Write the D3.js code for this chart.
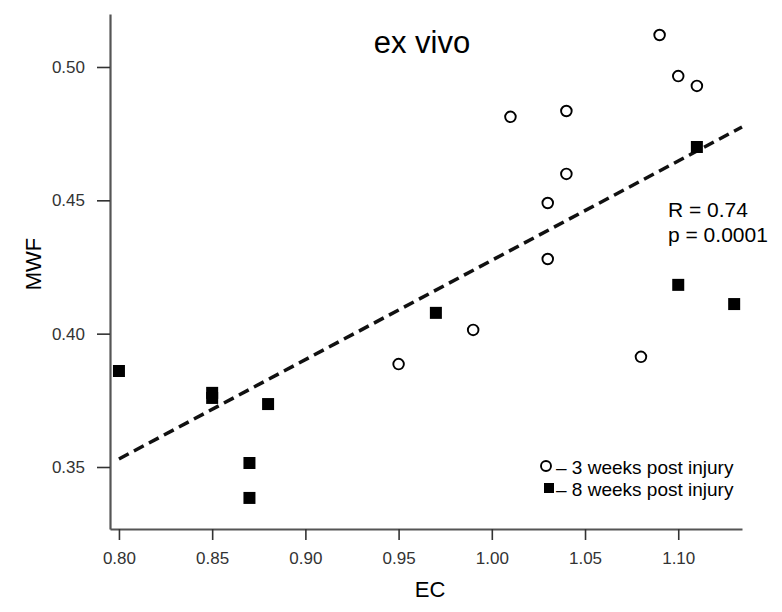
<!DOCTYPE html>
<html>
<head>
<meta charset="utf-8">
<script src="https://cdn.jsdelivr.net/npm/d3@7"></script>
<style>
  body { margin: 0; background: #fff; }
  svg { font-family: Arial, "Liberation Sans", sans-serif; }
</style>
</head>
<body>
<div id="chart"></div>
<script>
// 3 weeks post injury (open circles)
const ec3 = [1.09, 1.10, 1.11, 1.01, 1.04, 1.04, 1.03, 1.03, 0.99, 0.95, 1.08];
const mwf3 = [0.512, 0.4966, 0.4929, 0.4813, 0.4835, 0.4599, 0.449, 0.428, 0.4014, 0.3886, 0.3913];
// 8 weeks post injury (filled squares)
const ec8 = [0.80, 0.85, 0.85, 0.88, 0.87, 0.87, 0.97, 1.11, 1.10, 1.13];
const mwf8 = [0.386, 0.3778, 0.3759, 0.3736, 0.3515, 0.3384, 0.4078, 0.470, 0.4183, 0.4111];
// fitted line endpoints
const fitEC = [0.80, 1.1342];
const fitMWF = [0.353, 0.4775];

const xTicks = [0.80, 0.85, 0.90, 0.95, 1.00, 1.05, 1.10];
const yTicks = [0.35, 0.40, 0.45, 0.50];

const width = 782, height = 612;
const mLeft = 110, mRight = 742, mTop = 14, mBottom = 529;

const svg = d3.select('#chart').append('svg')
  .attr('width', width)
  .attr('height', height);

const x = d3.scaleLinear().domain([0.7952, 1.1342]).range([mLeft, mRight]);
const y = d3.scaleLinear().domain([0.32675, 0.51987]).range([mBottom, mTop]);

// axes
const xAxis = svg.append('g')
  .attr('transform', `translate(0,${mBottom})`)
  .call(d3.axisBottom(x).tickValues(xTicks).tickFormat(d3.format('.2f')).tickSize(11).tickPadding(12).tickSizeOuter(0));
const yAxis = svg.append('g')
  .attr('transform', `translate(${mLeft},0)`)
  .call(d3.axisLeft(y).tickValues(yTicks).tickFormat(d3.format('.2f')).tickSize(13).tickPadding(12).tickSizeOuter(0));

[xAxis, yAxis].forEach(a => {
  a.select('.domain').attr('stroke', '#555').attr('stroke-width', 2.2);
  a.selectAll('.tick line').attr('stroke', '#333').attr('stroke-width', 1.6);
  a.selectAll('.tick text').attr('fill', '#333').style('font-size', '17px');
});

// fit line
svg.append('line')
  .attr('x1', x(fitEC[0])).attr('y1', y(fitMWF[0]))
  .attr('x2', x(fitEC[1])).attr('y2', y(fitMWF[1]))
  .attr('stroke', '#111')
  .attr('stroke-width', 3.5)
  .attr('stroke-dasharray', '11,6');

// points
const sq = 12;
svg.selectAll('rect.w8')
  .data(ec8.map((d, i) => [d, mwf8[i]]))
  .enter().append('rect')
  .attr('class', 'w8')
  .attr('x', d => x(d[0]) - sq / 2)
  .attr('y', d => y(d[1]) - sq / 2)
  .attr('width', sq).attr('height', sq)
  .attr('fill', '#000');

svg.selectAll('circle.w3')
  .data(ec3.map((d, i) => [d, mwf3[i]]))
  .enter().append('circle')
  .attr('class', 'w3')
  .attr('cx', d => x(d[0]))
  .attr('cy', d => y(d[1]))
  .attr('r', 5.3)
  .attr('fill', '#fff')
  .attr('stroke', '#000')
  .attr('stroke-width', 1.9);

// labels
svg.append('text')
  .attr('x', 422).attr('y', 53)
  .attr('text-anchor', 'middle')
  .style('font-size', '31px')
  .text('ex vivo');

svg.append('text')
  .attr('transform', 'translate(41,264) rotate(-90)')
  .attr('text-anchor', 'middle')
  .style('font-size', '22px')
  .text('MWF');

svg.append('text')
  .attr('x', 430).attr('y', 597)
  .attr('text-anchor', 'middle')
  .style('font-size', '22px')
  .text('EC');

svg.append('text')
  .attr('x', 668).attr('y', 217)
  .style('font-size', '21px')
  .text('R = 0.74');
svg.append('text')
  .attr('x', 668).attr('y', 242)
  .style('font-size', '21px')
  .text('p = 0.0001');

// legend
const lg = svg.append('g');
lg.append('circle').attr('cx', 546).attr('cy', 466).attr('r', 5)
  .attr('fill', '#fff').attr('stroke', '#000').attr('stroke-width', 1.9);
lg.append('text').attr('x', 556).attr('y', 474).style('font-size', '19px')
  .text('– 3 weeks post injury');
lg.append('rect').attr('x', 544).attr('y', 483).attr('width', 10).attr('height', 10).attr('fill', '#000');
lg.append('text').attr('x', 556).attr('y', 496).style('font-size', '19px')
  .text('– 8 weeks post injury');
</script>
</body>
</html>
